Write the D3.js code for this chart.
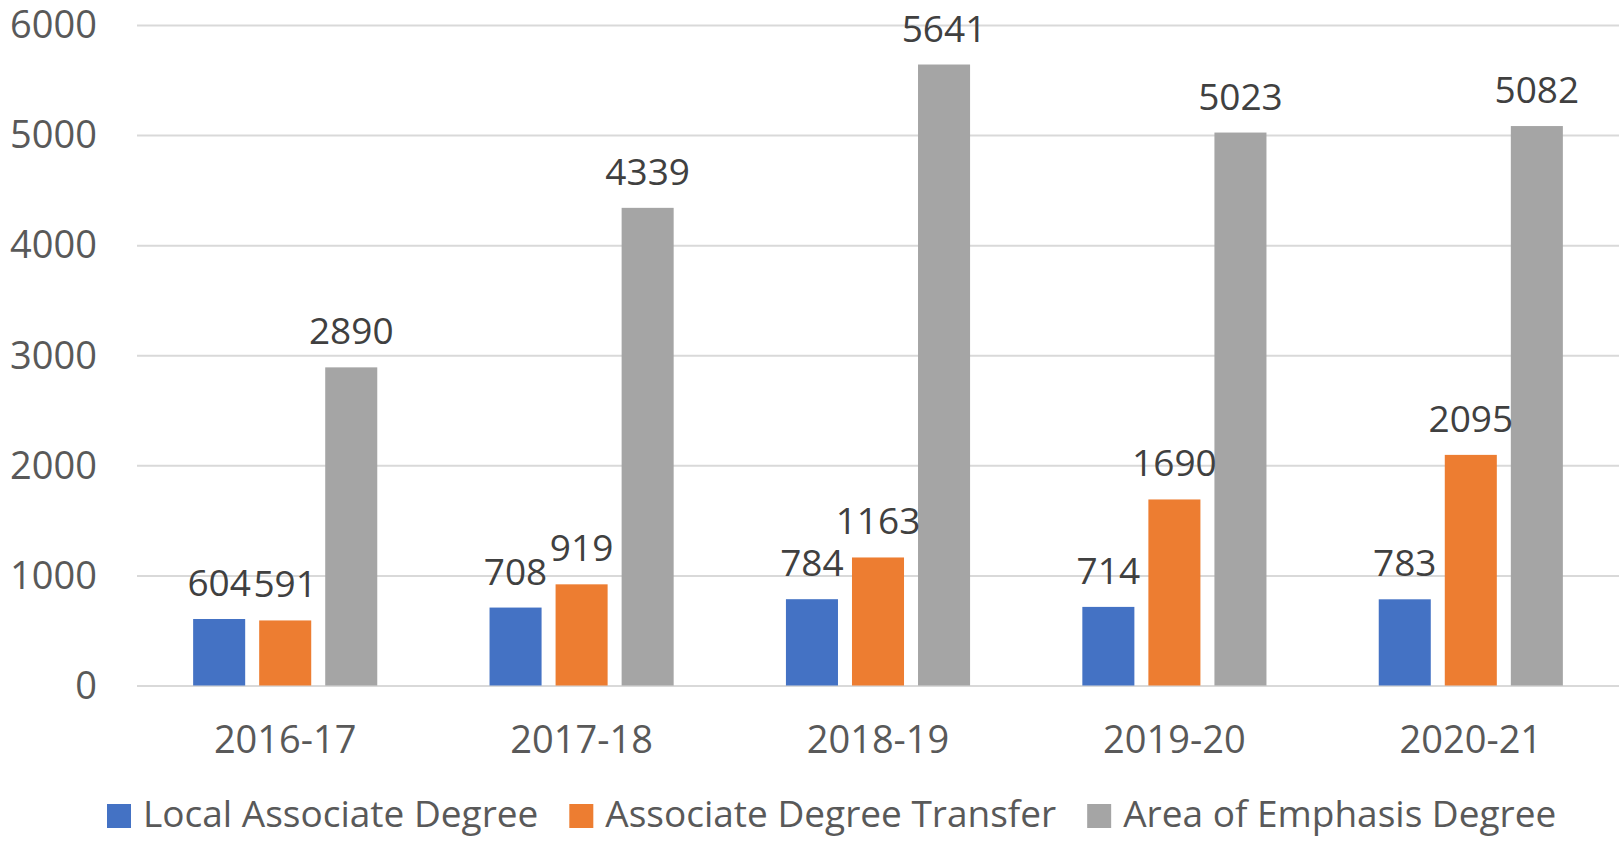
<!DOCTYPE html>
<html>
<head>
<meta charset="utf-8">
<script src="https://cdn.jsdelivr.net/npm/d3@7"></script>
<style>
	body { margin: 0; background: #fff; }
	svg { display: block; font-family: "Open Sans", sans-serif; }
	.grid line { stroke: #d9d9d9; stroke-width: 2; }
	.grid .domain { display: none; }
	.tickLabel { fill: #595959; font-size: 38px; }
	.barLabel { fill: #404040; font-size: 37px; }
	.legendText { fill: #595959; font-size: 37px; }
</style>
</head>
<body>
<script>
(function(){
	//chart values
	var years = ["2016-17", "2017-18", "2018-19", "2019-20", "2020-21"];
	var seriesNames = ["Local Associate Degree", "Associate Degree Transfer", "Area of Emphasis Degree"];
	var localDegree = [604, 708, 784, 714, 783];
	var transferDegree = [591, 919, 1163, 1690, 2095];
	var emphasisDegree = [2890, 4339, 5641, 5023, 5082];
	var yTicks = [0, 1000, 2000, 3000, 4000, 5000, 6000];

	var colors = ["#4472c4", "#ed7d31", "#a5a5a5"];

	var width = 1619,
		height = 843,
		plotLeft = 137,
		plotRight = 1619,
		plotTop = 25,
		plotBottom = 685.5;

	var svg = d3.select("body")
		.append("svg")
		.attr("width", width)
		.attr("height", height);

	var x0 = d3.scaleBand()
		.domain(years)
		.range([plotLeft, plotRight]);

	var x1 = d3.scaleBand()
		.domain(seriesNames)
		.range([0, x0.bandwidth()])
		.paddingInner(0.212)
		.paddingOuter(0.85);

	var y = d3.scaleLinear()
		.domain([0, 6000])
		.range([plotBottom, plotTop]);

	//gridlines
	var grid = svg.append("g")
		.attr("class", "grid")
		.attr("transform", "translate(" + plotLeft + ",0)")
		.call(d3.axisLeft(y)
			.tickValues(yTicks)
			.tickSize(-(plotRight - plotLeft))
			.tickFormat(""));

	//y labels
	svg.selectAll(".yLabel")
		.data(yTicks)
		.enter()
		.append("text")
		.attr("class", "tickLabel")
		.attr("x", 97)
		.attr("y", function(d){ return y(d); })
		.attr("dy", "0.35em")
		.attr("text-anchor", "end")
		.text(function(d){ return d; });

	//x labels
	svg.selectAll(".xLabel")
		.data(years)
		.enter()
		.append("text")
		.attr("class", "tickLabel")
		.attr("x", function(d){ return x0(d) + x0.bandwidth() / 2; })
		.attr("y", 753)
		.attr("text-anchor", "middle")
		.text(function(d){ return d; });

	var rows = years.map(function(yr, i){
		return [
			{year: yr, series: seriesNames[0], value: localDegree[i], color: colors[0]},
			{year: yr, series: seriesNames[1], value: transferDegree[i], color: colors[1]},
			{year: yr, series: seriesNames[2], value: emphasisDegree[i], color: colors[2]}
		];
	});
	var flat = [].concat.apply([], rows);

	svg.selectAll(".bar")
		.data(flat)
		.enter()
		.append("rect")
		.attr("class", "bar")
		.attr("x", function(d){ return x0(d.year) + x1(d.series); })
		.attr("width", x1.bandwidth())
		.attr("y", function(d){ return y(d.value); })
		.attr("height", function(d){ return y(0) - y(d.value); })
		.style("fill", function(d){ return d.color; });

	svg.selectAll(".barLabel")
		.data(flat)
		.enter()
		.append("text")
		.attr("class", "barLabel")
		.attr("x", function(d){ return x0(d.year) + x1(d.series) + x1.bandwidth() / 2; })
		.attr("y", function(d){ return y(d.value) - 23; })
		.attr("text-anchor", "middle")
		.text(function(d){ return d.value; });

	//legend
	var legend = svg.append("g").attr("class", "legend");
	var lx = 107;
	seriesNames.forEach(function(name, i){
		legend.append("rect")
			.attr("x", lx)
			.attr("y", 804)
			.attr("width", 24)
			.attr("height", 24)
			.style("fill", colors[i]);
		var t = legend.append("text")
			.attr("class", "legendText")
			.attr("x", lx + 36)
			.attr("y", 827)
			.text(name);
		lx += 36 + t.node().getComputedTextLength() + 31;
	});
})();
</script>
</body>
</html>
